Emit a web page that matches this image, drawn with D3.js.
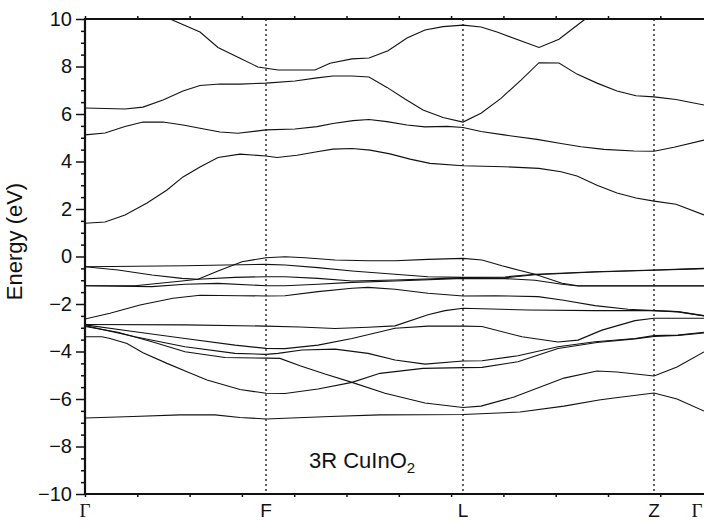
<!DOCTYPE html>
<html>
<head>
<meta charset="utf-8">
<script src="https://cdn.jsdelivr.net/npm/d3@7"></script>
<style>
  body { margin: 0; background: #fff; }
  svg { display: block; }
  .band { fill: none; stroke: #111; stroke-width: 1.1; }
  .axis text { font-family: "Liberation Sans", Arial, sans-serif; font-size: 20px; fill: #111; }
  .axis path { display: none; }
  .axis line { stroke: #111; stroke-width: 1.5; }
  .frame { stroke: #111; stroke-width: 2.2; }
  .kline { stroke: #111; stroke-width: 1.3; stroke-dasharray: 2,3; }
</style>
</head>
<body>
<div id="chart"></div>
<script>

// high-symmetry points along the k-path
var kLabels = ["Γ", "F", "L", "Z", "Γ"];
var kPos = [0, 1.81, 3.78, 5.69, 6.12];
var kEnd = 6.19;

var yTicks = [-10, -8, -6, -4, -2, 0, 2, 4, 6, 8, 10];

// bands as [k, energy (eV)]
var bandC4 = [[0.65,10.4],[0.85,10.0],[1.15,9.45],[1.33,8.8],[1.55,8.35],[1.73,7.98],[1.93,7.85],[2.30,7.85],[2.45,8.14],[2.67,8.32],[2.84,8.36],[3.03,8.66],[3.22,9.2],[3.40,9.54],[3.58,9.68],[3.78,9.74],[3.96,9.66],[4.12,9.45],[4.54,8.8],[4.74,9.15],[4.99,9.96],[5.15,10.5]];
var bandC3 = [[0,6.25],[0.40,6.21],[0.58,6.29],[0.78,6.59],[0.98,6.97],[1.15,7.2],[1.35,7.26],[1.55,7.26],[1.81,7.3],[2.10,7.39],[2.32,7.52],[2.48,7.6],[2.67,7.6],[2.84,7.56],[3.02,7.12],[3.20,6.63],[3.38,6.17],[3.58,5.85],[3.78,5.66],[3.96,6.03],[4.16,6.66],[4.36,7.43],[4.54,8.16],[4.74,8.15],[4.92,7.68],[5.12,7.3],[5.32,6.97],[5.51,6.77],[5.69,6.72],[5.91,6.61],[6.19,6.38]];
var bandC2 = [[0,5.12],[0.20,5.2],[0.40,5.47],[0.58,5.66],[0.78,5.66],[0.98,5.54],[1.15,5.4],[1.35,5.24],[1.53,5.19],[1.81,5.33],[2.10,5.37],[2.32,5.47],[2.48,5.6],[2.68,5.72],[2.84,5.77],[3.02,5.68],[3.22,5.54],[3.40,5.46],[3.62,5.48],[3.78,5.43],[3.96,5.26],[4.19,5.12],[4.52,4.93],[4.76,4.76],[4.96,4.62],[5.19,4.51],[5.49,4.44],[5.69,4.43],[5.89,4.6],[6.19,4.9]];
var bandC1 = [[0,1.4],[0.20,1.45],[0.40,1.75],[0.62,2.25],[0.82,2.8],[0.98,3.35],[1.15,3.77],[1.33,4.17],[1.55,4.31],[1.81,4.23],[1.92,4.17],[2.12,4.26],[2.32,4.41],[2.48,4.52],[2.67,4.55],[2.85,4.48],[3.05,4.32],[3.25,4.1],[3.45,3.92],[3.78,3.82],[4.19,3.78],[4.54,3.71],[4.76,3.57],[4.92,3.39],[5.12,3.0],[5.32,2.67],[5.51,2.46],[5.69,2.33],[5.91,2.2],[6.19,1.75]];

var bandVa = [[0,-0.43],[0.33,-0.57],[0.67,-0.78],[0.97,-0.92],[1.13,-0.96],[1.33,-0.61],[1.57,-0.22],[1.81,-0.05],[2.00,-0.01],[2.20,-0.05],[2.50,-0.15],[2.83,-0.18],[3.10,-0.18],[3.43,-0.12],[3.78,-0.08],[3.97,-0.15],[4.17,-0.39],[4.37,-0.61],[4.50,-0.75],[4.77,-1.13],[4.93,-1.23],[5.69,-1.23],[6.19,-1.23]];
var bandVb = [[0,-0.43],[1.00,-0.39],[1.40,-0.36],[1.81,-0.33],[2.00,-0.36],[2.33,-0.47],[2.67,-0.61],[3.10,-0.75],[3.43,-0.85],[3.78,-0.88],[4.20,-0.86],[4.50,-0.75],[5.10,-0.64],[5.69,-0.57],[6.19,-0.5]];
var bandVc = [[0,-1.23],[0.50,-1.23],[0.97,-1.03],[1.13,-0.96],[1.50,-0.88],[1.81,-0.85],[2.00,-0.85],[2.33,-0.92],[2.67,-1.03],[3.10,-0.99],[3.78,-0.9],[4.20,-0.9],[4.50,-0.77],[5.10,-0.65],[5.69,-0.58],[6.19,-0.51]];
var bandVd = [[0,-1.23],[0.67,-1.27],[1.00,-1.17],[1.33,-1.13],[1.81,-1.23],[2.00,-1.23],[2.33,-1.17],[2.67,-1.09],[3.10,-1.03],[3.78,-0.92],[4.20,-0.93],[4.50,-1.0],[4.77,-1.17],[4.93,-1.24],[5.69,-1.24],[6.19,-1.24]];
var bandVe = [[0,-2.63],[0.25,-2.39],[0.55,-2.04],[0.88,-1.76],[1.15,-1.63],[1.55,-1.65],[1.81,-1.66],[2.00,-1.65],[2.33,-1.48],[2.67,-1.34],[2.83,-1.3],[3.10,-1.38],[3.43,-1.55],[3.78,-1.66],[4.10,-1.65],[4.53,-1.69],[4.77,-1.83],[5.10,-2.07],[5.43,-2.22],[5.69,-2.28],[5.93,-2.32],[6.19,-2.49]];
var bandVf = [[0,-2.86],[1.00,-2.88],[1.81,-2.93],[2.15,-2.97],[2.50,-3.03],[2.83,-2.98],[3.10,-2.92],[3.43,-2.45],[3.60,-2.28],[3.78,-2.18],[4.43,-2.25],[5.10,-2.28],[5.69,-2.28],[5.93,-2.33],[6.19,-2.5]];
var bandVg = [[0,-2.88],[0.50,-3.17],[1.00,-3.45],[1.50,-3.73],[1.81,-3.87],[2.00,-3.88],[2.33,-3.73],[2.67,-3.45],[3.10,-3.02],[3.43,-2.93],[3.78,-2.93],[3.97,-2.95],[4.37,-3.38],[4.73,-3.6],[4.93,-3.52],[5.17,-3.1],[5.50,-2.7],[5.69,-2.6],[6.19,-2.6]];
var bandVh = [[0,-2.91],[0.50,-3.38],[1.00,-3.8],[1.50,-4.08],[1.81,-4.12],[1.93,-4.08],[2.17,-3.94],[2.50,-3.9],[2.83,-4.08],[3.10,-4.36],[3.40,-4.53],[3.78,-4.4],[3.97,-4.39],[4.33,-4.18],[4.73,-3.8],[5.10,-3.59],[5.50,-3.45],[5.69,-3.33],[5.93,-3.31],[6.19,-3.19]];
var bandVi = [[0,-3.38],[0.17,-3.38],[0.25,-3.45],[0.42,-3.66],[0.58,-4.05],[0.82,-4.5],[1.02,-4.85],[1.22,-5.2],[1.55,-5.6],[1.81,-5.76],[2.00,-5.77],[2.33,-5.58],[2.67,-5.3],[2.95,-4.92],[3.38,-4.71],[3.78,-4.68],[3.97,-4.67],[4.33,-4.43],[4.73,-3.87],[5.12,-3.62],[5.50,-3.47],[5.69,-3.37],[5.93,-3.32],[6.19,-3.22]];
var bandVj = [[0,-2.95],[0.33,-3.19],[0.67,-3.59],[1.00,-4.01],[1.40,-4.25],[1.81,-4.28],[1.95,-4.29],[2.15,-4.6],[2.40,-4.95],[2.67,-5.3],[3.00,-5.76],[3.40,-6.17],[3.78,-6.36],[3.96,-6.3],[4.29,-5.92],[4.79,-5.12],[5.12,-4.82],[5.32,-4.86],[5.69,-5.03],[5.92,-4.65],[6.19,-4.02]];
var bandVk = [[0,-6.8],[0.48,-6.74],[0.95,-6.67],[1.30,-6.67],[1.55,-6.78],[1.81,-6.84],[2.45,-6.74],[2.95,-6.67],[3.78,-6.65],[4.35,-6.55],[4.79,-6.3],[5.14,-6.04],[5.29,-5.96],[5.69,-5.75],[5.92,-6.0],[6.19,-6.51]];

var bands = [bandC4, bandC3, bandC2, bandC1, bandVa, bandVb, bandVc, bandVd, bandVe,
             bandVf, bandVg, bandVh, bandVi, bandVj, bandVk];

var margin = {top: 19, right: 0, bottom: 27, left: 85},
    width = 704 - margin.left - margin.right,
    height = 521 - margin.top - margin.bottom;

var svg = d3.select("#chart").append("svg")
    .attr("width", 704)
    .attr("height", 521)
    .append("g")
    .attr("transform", "translate(" + margin.left + "," + margin.top + ")");

var x = d3.scaleLinear().domain([0, kEnd]).range([0, width]);
var y = d3.scaleLinear().domain([-10, 10]).range([height, 0]);

svg.append("clipPath")
    .attr("id", "clip")
    .append("rect")
    .attr("width", width)
    .attr("height", height);

// dotted lines at F, L, Z
svg.selectAll(".kline")
    .data(kPos.slice(1, 4))
    .enter().append("line")
    .attr("class", "kline")
    .attr("x1", function(d) { return x(d); })
    .attr("x2", function(d) { return x(d); })
    .attr("y1", 0)
    .attr("y2", height);

var line = d3.line()
    .x(function(d) { return x(d[0]); })
    .y(function(d) { return y(d[1]); });

svg.append("g")
    .attr("clip-path", "url(#clip)")
    .selectAll(".band")
    .data(bands)
    .enter().append("path")
    .attr("class", "band")
    .attr("d", line);

// y axis: minor then major ticks
var minor = d3.range(-10, 10.01, 0.5).filter(function(v) { return v % 2 !== 0; });
svg.append("g")
    .attr("class", "axis")
    .call(d3.axisLeft(y).tickValues(minor).tickSize(4).tickFormat(""));
svg.append("g")
    .attr("class", "axis")
    .call(d3.axisLeft(y).tickValues(yTicks).tickSize(9).tickPadding(4));

// small ticks along top and bottom
var xMinor = d3.range(0, kEnd, 0.523);
svg.append("g")
    .attr("class", "axis")
    .attr("transform", "translate(0," + height + ")")
    .call(d3.axisBottom(x).tickValues(xMinor).tickSize(3).tickFormat(""));
svg.append("g")
    .attr("class", "axis")
    .call(d3.axisTop(x).tickValues(xMinor).tickSize(3).tickFormat(""));

// frame: left, top, bottom
svg.append("line").attr("class", "frame").attr("x1", 0).attr("x2", 0).attr("y1", -1).attr("y2", height + 1);
svg.append("line").attr("class", "frame").attr("x1", 0).attr("x2", width).attr("y1", 0).attr("y2", 0);
svg.append("line").attr("class", "frame").attr("x1", 0).attr("x2", width).attr("y1", height).attr("y2", height);

// k-point labels
svg.selectAll(".klabel")
    .data(kLabels)
    .enter().append("text")
    .attr("class", "klabel")
    .attr("x", function(d, i) { return x(kPos[i]); })
    .attr("y", height + 23)
    .attr("text-anchor", "middle")
    .style("font-family", function(d) { return d === "Γ" ? "'Liberation Serif', serif" : "'Liberation Sans', Arial, sans-serif"; })
    .style("font-size", "19px")
    .style("fill", "#111")
    .text(function(d) { return d; });

// y axis title
svg.append("text")
    .attr("transform", "translate(" + (-63) + "," + (y(0) - 15) + ") rotate(-90)")
    .attr("text-anchor", "middle")
    .style("font-family", "'Liberation Sans', Arial, sans-serif")
    .style("font-size", "22px")
    .style("fill", "#111")
    .text("Energy (eV)");

// compound label
var lab = svg.append("text")
    .attr("x", x(2.24))
    .attr("y", y(-8.9))
    .style("font-family", "'Liberation Sans', Arial, sans-serif")
    .style("font-size", "22px")
    .style("fill", "#111");
lab.append("tspan").text("3R CuInO");
lab.append("tspan").attr("dy", 5).style("font-size", "15px").text("2");

</script>
</body>
</html>
